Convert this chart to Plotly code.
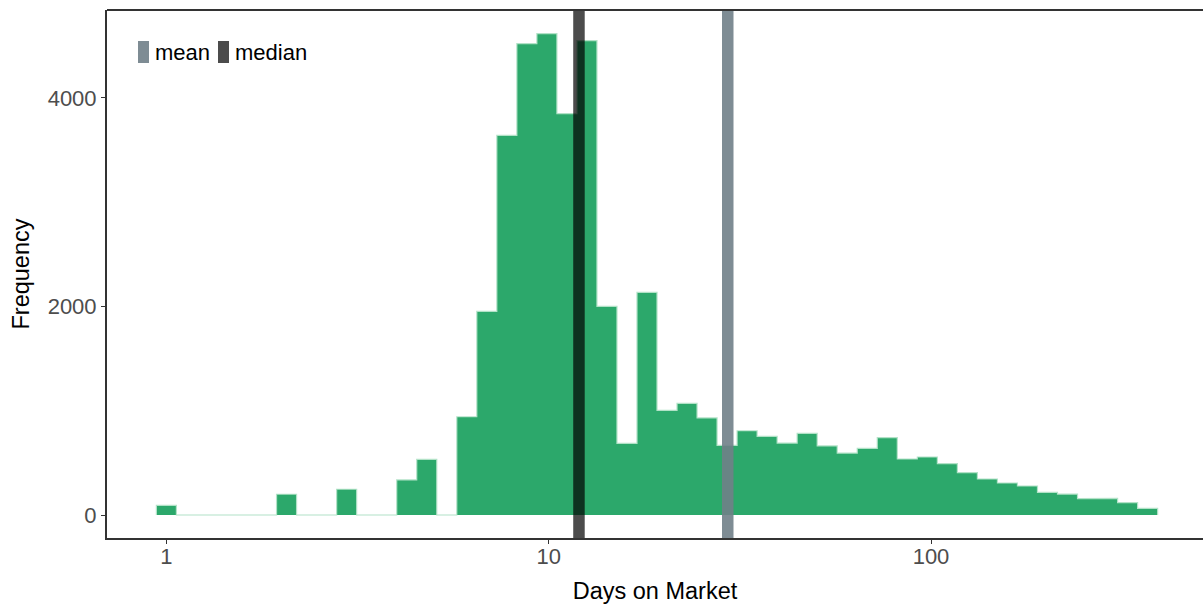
import math
import plotly.graph_objects as go

# Histogram of days on market, 50 equal-width bins on a log10 scale (first bin centred on 1 day)
bin_width_log10 = 0.05238
counts = [93, 0, 0, 0, 0, 0, 199, 0, 0, 247,
          0, 0, 336, 534, 0, 942, 1953, 3640, 4519, 4615,
          3848, 4548, 2001, 687, 2135, 1004, 1071, 931, 667, 808,
          754, 690, 783, 662, 594, 639, 741, 537, 556, 492,
          406, 345, 307, 278, 217, 201, 157, 160, 118, 64]

mean_days = 29.4
median_days = 12

x_tick_vals = [0, 1, 2]
x_tick_text = ["1", "10", "100"]
y_tick_vals = [0, 2000, 4000]

centers = [k * bin_width_log10 for k in range(len(counts))]
half = bin_width_log10 / 2

fill = "#2ca86b"
edge = "rgba(178,226,199,1)"
mean_col = "rgba(112,128,136,0.9)"
median_col = "rgba(0,0,0,0.7)"

fig = go.Figure()

fig.add_trace(go.Bar(
    x=centers, y=counts, width=[bin_width_log10] * len(counts),
    marker=dict(color=fill, line=dict(width=0)),
    showlegend=False))

# light outline tracing the histogram's outer edge
ox, oy = [centers[0] - half], [0]
for c, n in zip(centers, counts):
    ox += [c - half, c + half]
    oy += [n, n]
ox.append(centers[-1] + half)
oy.append(0)
fig.add_trace(go.Scatter(x=ox, y=oy, mode="lines",
                         line=dict(color=edge, width=1.2),
                         hoverinfo="skip", showlegend=False))

# mean and median reference bands spanning the panel
for val, col in [(mean_days, mean_col), (median_days, median_col)]:
    fig.add_shape(type="line", xref="x", yref="paper",
                  x0=math.log10(val), x1=math.log10(val), y0=0, y1=1,
                  line=dict(color=col, width=11.5), layer="above")

# border along the top of the panel
fig.add_shape(type="line", xref="paper", yref="paper", x0=0, x1=1, y0=1, y1=1,
              line=dict(color="#333333", width=2))

# legend keys drawn as slim rectangles with labels
legend_items = [("mean", mean_col, 138), ("median", median_col, 218)]
for label, col, px in legend_items:
    x0 = (px - 107) / 1096
    x1 = (px + 11 - 107) / 1096
    fig.add_shape(type="rect", xref="paper", yref="paper",
                  x0=x0, x1=x1, y0=(538 - 63) / 528, y1=(538 - 41) / 528,
                  line=dict(width=0), fillcolor=col)
    fig.add_annotation(xref="paper", yref="paper", x=(px + 15 - 107) / 1096,
                       y=(538 - 53) / 528, text=label, showarrow=False,
                       xanchor="left", yanchor="middle",
                       font=dict(size=22, color="#000000"))

fig.update_layout(
    width=1203, height=608,
    margin=dict(l=107, r=0, t=10, b=70),
    paper_bgcolor="white", plot_bgcolor="white",
    font=dict(family="Liberation Sans, Arial, sans-serif"),
    bargap=0,
    showlegend=False,
)

fig.update_xaxes(
    range=[-0.1554, 2.7115], tickmode="array",
    tickvals=x_tick_vals, ticktext=x_tick_text,
    showgrid=False, zeroline=False,
    showline=True, linecolor="#333333", linewidth=2,
    ticks="outside", ticklen=4, tickcolor="#333333",
    ticklabelstandoff=-6,
    tickfont=dict(size=22, color="#4d4d4d"),
    title=dict(text="Days on Market", font=dict(size=23.5, color="#000000"), standoff=14),
)
fig.update_yaxes(
    range=[-220.5, 4842], tickmode="array", tickvals=y_tick_vals,
    showgrid=False, zeroline=False,
    showline=True, linecolor="#333333", linewidth=2,
    ticks="outside", ticklen=4, tickcolor="#333333",
    tickfont=dict(size=22, color="#4d4d4d"),
    title=dict(text="Frequency", font=dict(size=23.5, color="#000000"), standoff=11),
)

fig.write_html("out.html")
